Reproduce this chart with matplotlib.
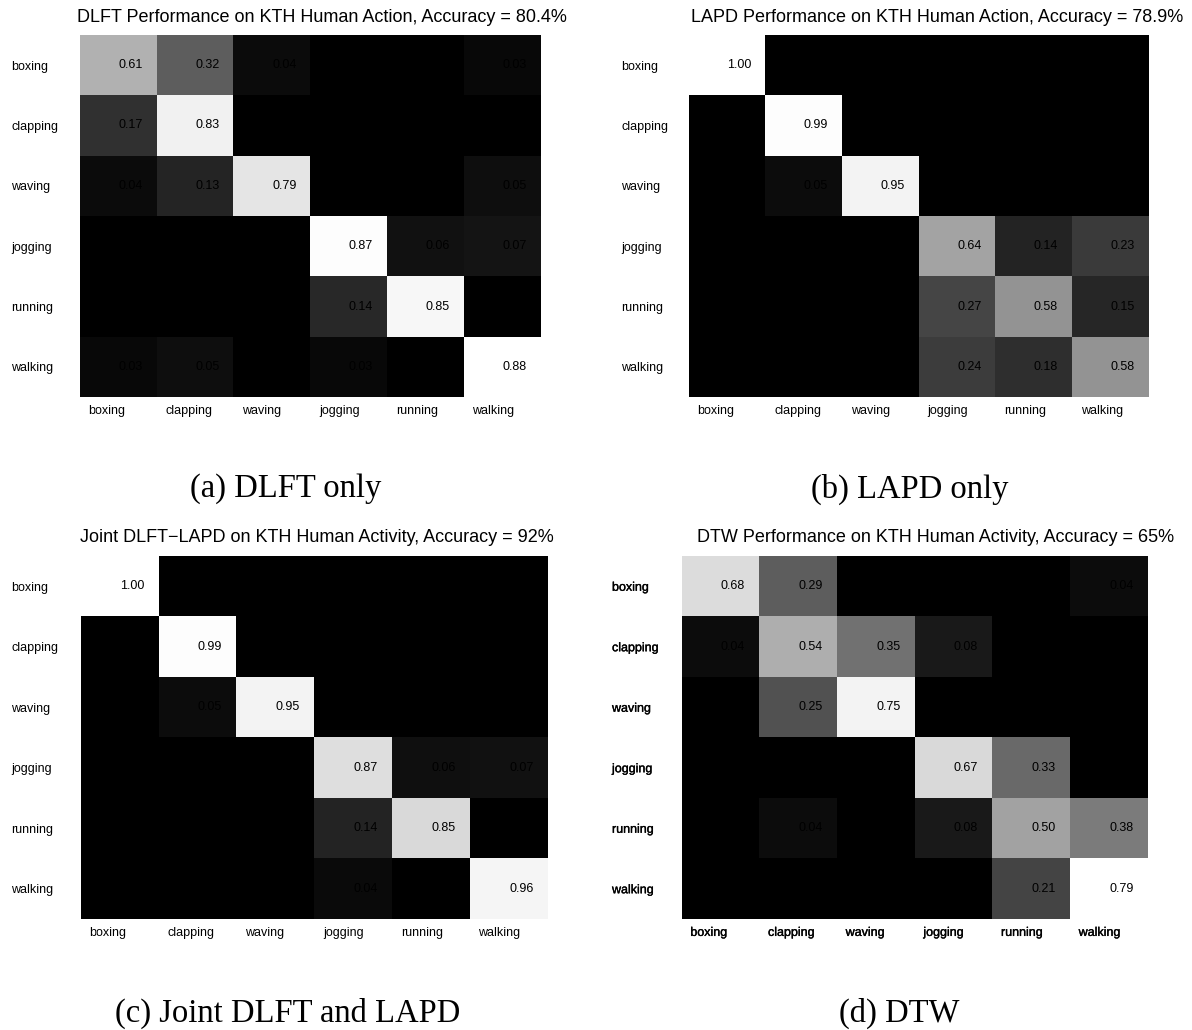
import numpy as np
import matplotlib
matplotlib.use("Agg")
import matplotlib.pyplot as plt
import matplotlib.patheffects as pe

plt.rcParams["font.family"] = ["Liberation Sans", "DejaVu Sans"]

acoes = ["boxing", "clapping", "waving", "jogging", "running", "walking"]

# matrizes de confusao (linhas = classe real, colunas = classe predita)
dlft = [
    [0.61, 0.32, 0.04, 0.00, 0.00, 0.03],
    [0.17, 0.83, 0.00, 0.00, 0.00, 0.00],
    [0.04, 0.13, 0.79, 0.00, 0.00, 0.05],
    [0.00, 0.00, 0.00, 0.87, 0.06, 0.07],
    [0.00, 0.00, 0.00, 0.14, 0.85, 0.00],
    [0.03, 0.05, 0.00, 0.03, 0.00, 0.88],
]
lapd = [
    [1.00, 0.00, 0.00, 0.00, 0.00, 0.00],
    [0.00, 0.99, 0.00, 0.00, 0.00, 0.00],
    [0.00, 0.05, 0.95, 0.00, 0.00, 0.00],
    [0.00, 0.00, 0.00, 0.64, 0.14, 0.23],
    [0.00, 0.00, 0.00, 0.27, 0.58, 0.15],
    [0.00, 0.00, 0.00, 0.24, 0.18, 0.58],
]
joint = [
    [1.00, 0.00, 0.00, 0.00, 0.00, 0.00],
    [0.00, 0.99, 0.00, 0.00, 0.00, 0.00],
    [0.00, 0.05, 0.95, 0.00, 0.00, 0.00],
    [0.00, 0.00, 0.00, 0.87, 0.06, 0.07],
    [0.00, 0.00, 0.00, 0.14, 0.85, 0.00],
    [0.00, 0.00, 0.00, 0.04, 0.00, 0.96],
]
dtw = [
    [0.68, 0.29, 0.00, 0.00, 0.00, 0.04],
    [0.04, 0.54, 0.35, 0.08, 0.00, 0.00],
    [0.00, 0.25, 0.75, 0.00, 0.00, 0.00],
    [0.00, 0.00, 0.00, 0.67, 0.33, 0.00],
    [0.00, 0.04, 0.00, 0.08, 0.50, 0.38],
    [0.00, 0.00, 0.00, 0.00, 0.21, 0.79],
]

titulos = [
    "DLFT Performance on KTH Human Action, Accuracy = 80.4%",
    "LAPD Performance on KTH Human Action, Accuracy = 78.9%",
    "Joint DLFT\u2212LAPD on KTH Human Activity, Accuracy = 92%",
    "DTW Performance on KTH Human Activity, Accuracy = 65%",
]
legendas = ["(a) DLFT only", "(b) LAPD only", "(c) Joint DLFT and LAPD", "(d) DTW"]

W, H = 1192, 1030
fig = plt.figure(figsize=(W / 100, H / 100), dpi=100)

# caixas em pixels: (esq, topo, dir, baixo), x do rotulo y, centro do titulo, legenda
caixas = [(80, 35, 541, 397), (689, 35, 1149, 397), (81, 556, 548, 919), (682, 556, 1148, 919)]
rotulo_y_x = [11, 621, 11, 612]
titulo_pos = [(322, 18), (937, 18), (317, 538), (936, 538)]
legenda_pos = [(286, 489), (910, 489), (288, 1013), (899, 1013)]
negrito = [False, False, False, True]

for k, M in enumerate([dlft, lapd, joint, dtw]):
    M = np.array(M)
    l, t, r, b = caixas[k]
    ax = fig.add_axes([l / W, 1 - b / H, (r - l) / W, (b - t) / H])
    ax.imshow(M, cmap="gray", vmin=0, vmax=M.max(), aspect="auto", interpolation="nearest")
    for i in range(6):
        for j in range(6):
            if M[i, j] > 0:
                ax.text(j, i, f"{M[i, j]:.2f}", ha="left", va="center", fontsize=9, color="black")
    for s in ax.spines.values():
        s.set_visible(False)
    ax.set_yticks(range(6), acoes)
    ax.tick_params(axis="y", length=0, pad=(l - rotulo_y_x[k]) * 0.72, labelsize=9)
    plt.setp(ax.get_yticklabels(), ha="left")
    ax.set_xticks([])
    rotulos = list(ax.get_yticklabels())
    for j, nome in enumerate(acoes):
        rotulos.append(ax.annotate(nome, xy=(j - 0.5, 5.5), xytext=(6, -10),
                                   textcoords="offset points", ha="left", va="center",
                                   fontsize=9, annotation_clip=False))
    if negrito[k]:
        # rotulos do DTW um pouco mais escuros
        for txt in rotulos:
            txt.set_path_effects([pe.withStroke(linewidth=0.25, foreground="black")])
    fig.text(titulo_pos[k][0] / W, 1 - titulo_pos[k][1] / H, titulos[k],
             ha="center", va="center", fontsize=13)
    fig.text(legenda_pos[k][0] / W, 1 - legenda_pos[k][1] / H, legendas[k],
             ha="center", va="center", fontsize=23.5, family="Liberation Serif")

fig.savefig("out.png", dpi=100)
plt.close()
